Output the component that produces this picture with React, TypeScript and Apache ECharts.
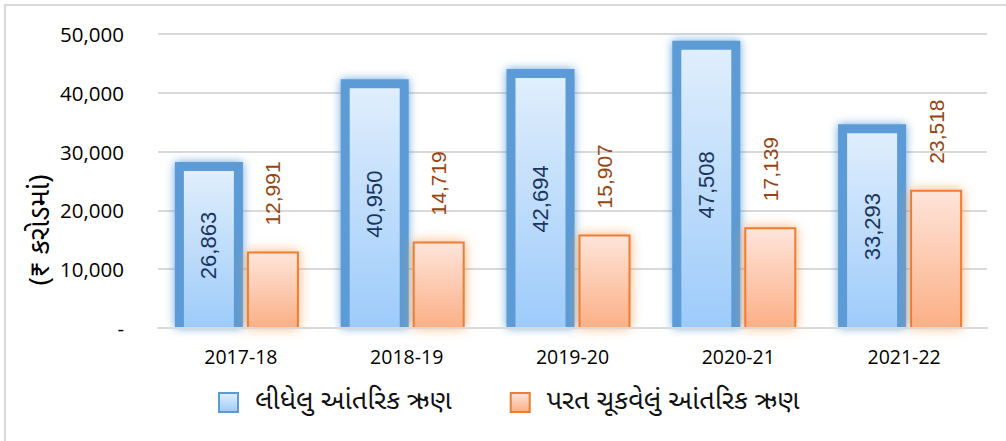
import React, { useEffect, useRef } from "react";
import * as echarts from "echarts";

const categories = ["2017-18", "2018-19", "2019-20", "2020-21", "2021-22"];
const borrowed = [26863, 40950, 42694, 47508, 33293];
const repaid = [12991, 14719, 15907, 17139, 23518];
const seriesNames = ["લીધેલુ આંતરિક ઋણ", "પરત ચૂકવેલું આંતરિક ઋણ"];
const yAxisName = "(₹ કરોડમાં)";
const yTicks = { min: 0, max: 50000, interval: 10000 };

const GU_FONT = '"Noto Sans Gujarati", "Lohit Gujarati", "Noto Sans", "Open Sans", sans-serif';
const NUM_FONT = '"Open Sans", "Noto Sans", sans-serif';
const LABEL_FONT = '"Liberation Sans", Arial, sans-serif';

const fmt = (v: number) => (v === 0 ? "-" : v.toLocaleString("en-US"));

export default function App() {
  const ref = useRef<HTMLDivElement>(null);
  useEffect(() => {
    document.body.style.margin = "0";
    const chart = echarts.init(ref.current!, null, { renderer: "svg" });
    const blueFill = () =>
      new echarts.graphic.LinearGradient(0, 0, 0, 1, [
        { offset: 0, color: "#E0EEFC" },
        { offset: 1, color: "#9DCBFA" },
      ]);
    const orangeFill = () =>
      new echarts.graphic.LinearGradient(0, 0, 0, 1, [
        { offset: 0, color: "#FEE4D9" },
        { offset: 1, color: "#FBAF86" },
      ]);
    const BLUE = "#5B9BD5";
    const ORANGE = "#ED7D31";
    const REF_BAND = 165.8;

    const renderBlue = (params: any, api: any) => {
      const i = api.value(0);
      const v = api.value(1);
      const [cx, y] = api.coord([i, v]);
      const base = api.coord([i, 0])[1];
      const k = api.size([1, 0])[0] / REF_BAND;
      const innerL = cx - 57 * k;
      const innerR = cx - 7 * k;
      const bw = 9;
      const innerTop = y + 1;
      const outerTop = innerTop - bw;
      return {
        type: "group",
        children: [
          {
            type: "rect",
            shape: { x: innerL - bw, y: outerTop, width: innerR - innerL + 2 * bw, height: base - outerTop },
            style: { fill: BLUE, shadowBlur: 10, shadowColor: "rgba(91,155,213,0.9)" },
          },
          {
            type: "rect",
            shape: { x: innerL, y: innerTop, width: innerR - innerL, height: base - innerTop },
            style: { fill: blueFill() },
          },
          {
            type: "text",
            x: (innerL + innerR) / 2,
            y: (innerTop + base) / 2 - 4,
            rotation: Math.PI / 2,
            style: {
              text: fmt(v),
              font: `22px ${LABEL_FONT}`,
              fill: "#1B3561",
              align: "center",
              verticalAlign: "middle",
            },
          },
        ],
      };
    };

    const renderOrange = (params: any, api: any) => {
      const i = api.value(0);
      const v = api.value(1);
      const [cx, y] = api.coord([i, v]);
      const base = api.coord([i, 0])[1];
      const k = api.size([1, 0])[0] / REF_BAND;
      const l = cx + 6 * k;
      const r = cx + 58 * k;
      const bw = 2;
      return {
        type: "group",
        children: [
          {
            type: "rect",
            shape: { x: l, y: y, width: r - l, height: base - y },
            style: { fill: ORANGE, shadowBlur: 12, shadowColor: "rgba(247,150,70,0.75)" },
          },
          {
            type: "rect",
            shape: { x: l + bw, y: y + bw, width: r - l - 2 * bw, height: base - y - bw },
            style: { fill: orangeFill() },
          },
          {
            type: "text",
            x: (l + r) / 2,
            y: y - 26,
            rotation: Math.PI / 2,
            style: {
              text: fmt(v),
              font: `21px ${LABEL_FONT}`,
              fill: "#974510",
              align: "left",
              verticalAlign: "middle",
            },
          },
        ],
      };
    };

    chart.setOption({
      animation: false,
      backgroundColor: "#fff",
      grid: { left: 158, right: 19, top: 34, bottom: 113, containLabel: false },
      graphic: [
        {
          type: "rect",
          shape: { x: 5, y: 5, width: 1010, height: 450 },
          style: { fill: "none", stroke: "#D9D9D9", lineWidth: 2 },
          silent: true,
        },
        {
          type: "text",
          x: 42,
          y: 230,
          rotation: Math.PI / 2,
          style: {
            text: yAxisName,
            font: `28px ${GU_FONT}`,
            fill: "#000",
            align: "center",
            verticalAlign: "middle",
          },
        },
      ],
      legend: {
        left: 213,
        top: 384,
        itemWidth: 19,
        itemHeight: 19,
        itemGap: 58,
        icon: "rect",
        textStyle: { fontSize: 27, color: "#111", fontFamily: GU_FONT, padding: [0, 0, 0, 12] },
        data: [
          { name: seriesNames[0], itemStyle: { color: blueFill(), borderColor: BLUE, borderWidth: 2 } },
          { name: seriesNames[1], itemStyle: { color: orangeFill(), borderColor: ORANGE, borderWidth: 2 } },
        ],
      },
      xAxis: {
        type: "category",
        data: categories,
        axisLine: { show: true, lineStyle: { color: "#D9D9D9", width: 2 } },
        axisTick: { show: false },
        axisLabel: { color: "#000", fontSize: 19.5, fontFamily: NUM_FONT, margin: 18 },
        z: 5,
      },
      yAxis: {
        type: "value",
        min: yTicks.min,
        max: yTicks.max,
        interval: yTicks.interval,
        axisLine: { show: false },
        axisTick: { show: false },
        splitLine: { lineStyle: { color: "#D9D9D9", width: 2 } },
        axisLabel: { color: "#000", fontSize: 20.5, fontFamily: NUM_FONT, margin: 34, formatter: fmt },
      },
      series: [
        {
          name: seriesNames[0],
          type: "custom",
          data: borrowed.map((v, i) => [i, v]),
          encode: { x: 0, y: 1 },
          itemStyle: { color: BLUE },
          renderItem: renderBlue,
        },
        {
          name: seriesNames[1],
          type: "custom",
          data: repaid.map((v, i) => [i, v]),
          encode: { x: 0, y: 1 },
          itemStyle: { color: ORANGE },
          renderItem: renderOrange,
        },
      ],
    });
    return () => chart.dispose();
  }, []);
  return <div ref={ref} style={{ width: 1006, height: 441 }} />;
}
